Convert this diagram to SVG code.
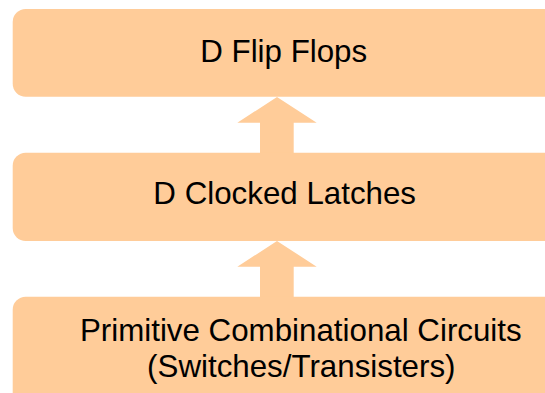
<svg xmlns="http://www.w3.org/2000/svg" width="545" height="393" viewBox="0 0 545 393">
  <style>
    .box { fill: #FFCC99; }
    .arrow { fill: #FFCC99; }
    .label { font-family: "Liberation Sans", Arial, sans-serif; font-size: 31.3px; fill: #000000; text-anchor: middle; }
  </style>
  <rect width="545" height="393" fill="#FFFFFF"/>
  <g id="connectors">
    <polygon class="arrow" points="277,97 316.7,122.7 293.7,122.7 293.7,153.5 260,153.5 260,122.7 237.3,122.7"/>
    <polygon class="arrow" points="277,241 316.7,266.7 293.7,266.7 293.7,297.5 260,297.5 260,266.7 237.3,266.7"/>
  </g>
  <g id="node-flipflops">
    <rect class="box" x="12.7" y="9" width="570" height="87.7" rx="13" ry="13"/>
    <text class="label" x="283.7" y="61.7">D Flip Flops</text>
  </g>
  <g id="node-latches">
    <rect class="box" x="12.7" y="152.7" width="570" height="88.3" rx="13" ry="13"/>
    <text class="label" x="284.7" y="204.3">D Clocked Latches</text>
  </g>
  <g id="node-primitive">
    <rect class="box" x="12.7" y="296.7" width="570" height="120" rx="13" ry="13"/>
    <text class="label" x="300.8" y="340.7">Primitive Combinational Circuits</text>
    <text class="label" x="301.3" y="376.7">(Switches/Transisters)</text>
  </g>
</svg>
